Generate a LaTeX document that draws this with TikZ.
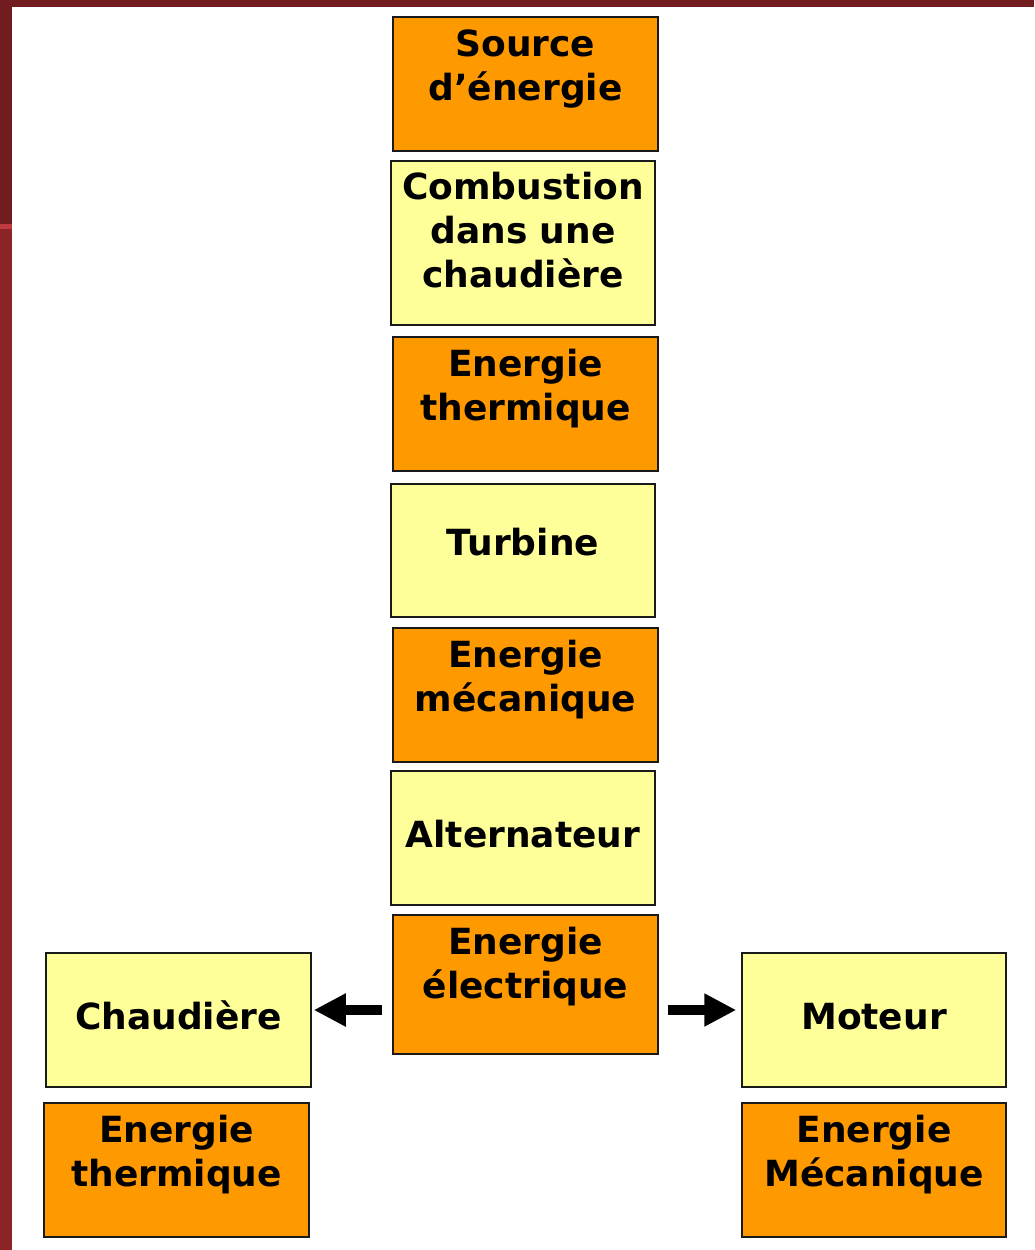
\documentclass[tikz,border=0pt]{standalone}
\usepackage{fontspec}
\setmainfont{DejaVu Sans}
\usetikzlibrary{arrows.meta}
\definecolor{orangeF}{HTML}{FF9900}
\definecolor{yellowF}{HTML}{FFFF99}
\definecolor{boxline}{HTML}{1A1A1A}
\definecolor{redTop}{HTML}{731C1F}
\definecolor{redLow}{HTML}{8A2427}
\definecolor{redStripe}{HTML}{C0393D}
\tikzset{
  obox/.style={draw=boxline, line width=1.5pt, fill=orangeF, inner sep=0pt},
  ybox/.style={draw=boxline, line width=1.5pt, fill=yellowF, inner sep=0pt},
  lbl/.style={inner sep=0pt, align=center, anchor=base,
    font=\fontsize{36}{44}\selectfont\bfseries},
  fatarrow/.style={draw=black, line width=10pt,
    -{Triangle[length=32pt,width=31pt]}}
}
\begin{document}
\begin{tikzpicture}[x=1pt,y=-1pt]
\useasboundingbox (0,0) rectangle (1034,1250);
\fill[white] (0,0) rectangle (1034,1250);
\fill[redTop] (0,0) rectangle (1034,7);
\fill[redTop] (0,0) rectangle (12,224);
\fill[redStripe] (0,224) rectangle (12,229);
\fill[redLow] (0,229) rectangle (12,1250);

\node[obox, minimum width=265pt, minimum height=134pt] (src) at (525.5,84) {};
\node[ybox, minimum width=264pt, minimum height=164pt] (comb) at (523,243) {};
\node[obox, minimum width=265pt, minimum height=134pt] (therm) at (525.5,404) {};
\node[ybox, minimum width=264pt, minimum height=133pt] (turb) at (523,550.5) {};
\node[obox, minimum width=265pt, minimum height=134pt] (meca) at (525.5,695) {};
\node[ybox, minimum width=264pt, minimum height=134pt] (alt) at (523,838) {};
\node[obox, minimum width=265pt, minimum height=139pt] (elec) at (525.5,984.5) {};
\node[ybox, minimum width=265pt, minimum height=134pt] (chaud) at (178.5,1020) {};
\node[obox, minimum width=265pt, minimum height=134pt] (thermB) at (176.5,1170) {};
\node[ybox, minimum width=264pt, minimum height=134pt] (mot) at (874,1020) {};
\node[obox, minimum width=264pt, minimum height=134pt] (mecaB) at (874,1170) {};

\node[lbl] (srcT) at (525.5,100) {Source\\d’énergie};
\node[lbl] (combT) at (523,287) {Combustion\\dans une\\chaudière};
\node[lbl] (thermT) at (525.5,420) {Energie\\thermique};
\node[lbl] (turbT) at (523,555) {Turbine};
\node[lbl] (mecaT) at (525.5,711) {Energie\\mécanique};
\node[lbl] (altT) at (523,847) {Alternateur};
\node[lbl] (elecT) at (525.5,998) {Energie\\électrique};
\node[lbl] (chaudT) at (178.5,1029) {Chaudière};
\node[lbl] (thermBT) at (176.5,1186) {Energie\\thermique};
\node[lbl] (motT) at (874,1029) {Moteur};
\node[lbl] (mecaBT) at (874,1186) {Energie\\Mécanique};

\draw[fatarrow, shorten <=10pt, shorten >=2pt]
  ([yshift=-25.5pt]elec.west) -- ([yshift=10pt]chaud.east);
\draw[fatarrow, shorten <=9pt, shorten >=5pt]
  ([yshift=-25.5pt]elec.east) -- ([yshift=10pt]mot.west);
\end{tikzpicture}
\end{document}
